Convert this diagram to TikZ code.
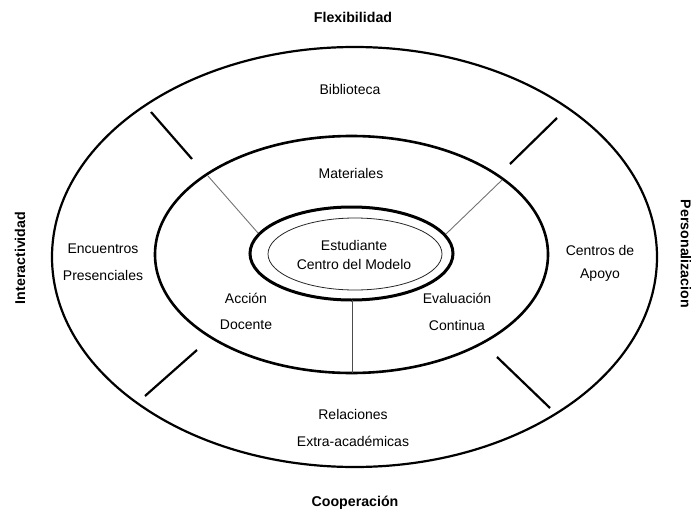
\documentclass[tikz,border=0pt]{standalone}
\usepackage{fontspec}
\setmainfont{Liberation Sans}
\begin{document}
\begin{tikzpicture}[x=1pt,y=-1pt,
  lbl/.style={font=\fontsize{14}{16}\selectfont, inner sep=1pt},
  axislbl/.style={font=\fontsize{14.2}{16}\selectfont\bfseries, inner sep=1pt},
  ring/.style={draw=black, line width=2.4pt},
  thinring/.style={draw=black!85, line width=0.8pt},
  divider/.style={draw=black, line width=2.2pt},
  spoke/.style={draw=black!55, line width=0.9pt}]
\useasboundingbox (0,0) rectangle (691,514);

% ellipses
\draw[ring, line width=2.2pt] (354.5,257) ellipse [x radius=302.5pt, y radius=210pt];
\draw[ring, line width=2.6pt] (351.5,254.5) ellipse [x radius=196.5pt, y radius=118.5pt];
\draw[ring, line width=3pt] (351.5,253.5) ellipse [x radius=101.5pt, y radius=46.5pt];
\draw[thinring] (355,254) ellipse [x radius=87pt, y radius=36pt];

% spoke coordinates
\coordinate (sl1) at (208,176);
\coordinate (sl2) at (258,233);
\coordinate (sr1) at (502,180);
\coordinate (sr2) at (446,234);
\coordinate (sb1) at (352,300);
\coordinate (sb2) at (352,373);
\draw[spoke] (sl1) -- (sl2);
\draw[spoke] (sr1) -- (sr2);
\draw[spoke, draw=black!70] (sb1) -- (sb2);

% dividers in outer ring
\coordinate (d1a) at (151,112);
\coordinate (d1b) at (192,159);
\coordinate (d2a) at (557,118);
\coordinate (d2b) at (510,164);
\coordinate (d3a) at (197,350);
\coordinate (d3b) at (145,396);
\coordinate (d4a) at (497,357);
\coordinate (d4b) at (550,408);
\draw[divider] (d1a) -- (d1b);
\draw[divider] (d2a) -- (d2b);
\draw[divider] (d3a) -- (d3b);
\draw[divider] (d4a) -- (d4b);

% axis labels
\node[axislbl] (flex) at (353,17) {Flexibilidad};
\node[axislbl] (coop) at (355,503) {Cooperación};
\node[axislbl, rotate=90] (inter) at (20,258) {Interactividad};
\node[axislbl, rotate=-90] (pers) at (686,254) {Personalizacion};

% ring labels
\node[lbl] (bib) at (350,89) {Biblioteca};
\node[lbl] (mat) at (351,173) {Materiales};
\node[lbl] (enc1) at (103,249) {Encuentros};
\node[lbl] (enc2) at (103,275) {Presenciales};
\node[lbl] (cen1) at (600,250) {Centros de};
\node[lbl] (cen2) at (600,275) {Apoyo};
\node[lbl] (acc1) at (246,298) {Acción};
\node[lbl] (acc2) at (246,325) {Docente};
\node[lbl] (eva1) at (457,298) {Evaluación};
\node[lbl] (eva2) at (457,325) {Continua};
\node[lbl] (rel1) at (353,414) {Relaciones};
\node[lbl] (rel2) at (353,441) {Extra-académicas};
\node[lbl] (est1) at (354,245) {Estudiante};
\node[lbl] (est2) at (354,264) {Centro del Modelo};
\end{tikzpicture}
\end{document}
